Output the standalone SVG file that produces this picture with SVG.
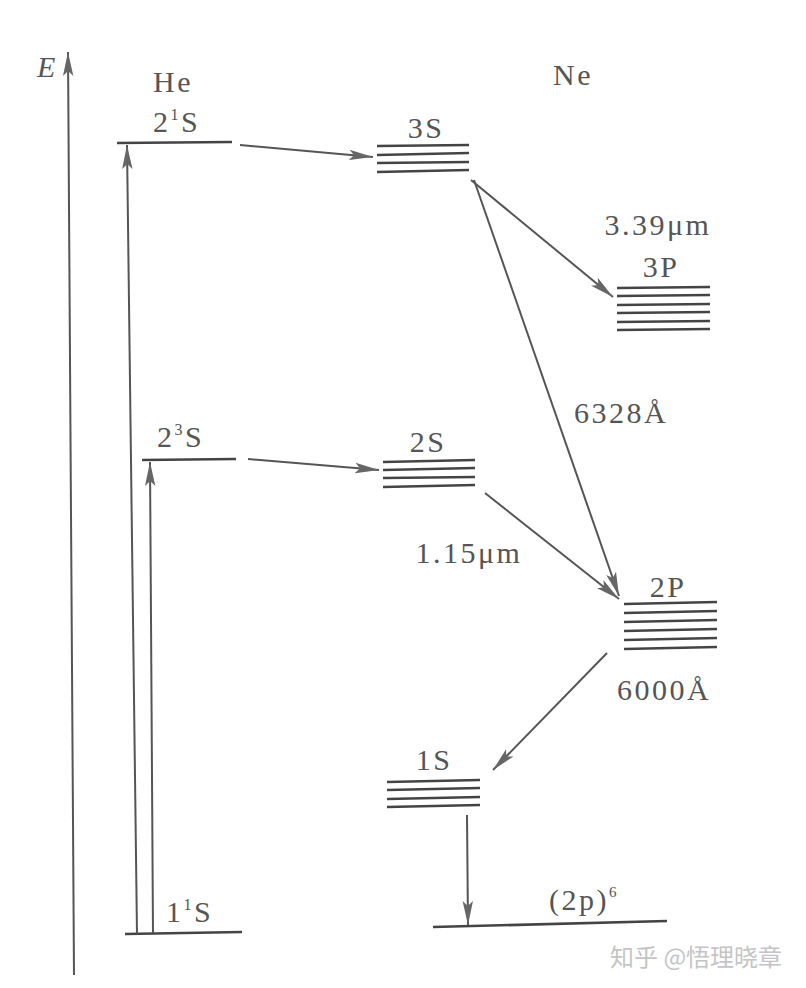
<svg xmlns="http://www.w3.org/2000/svg" width="806" height="988" viewBox="0 0 806 988">
<style>
.t{font-family:"Liberation Serif","Times New Roman",serif;font-size:30px;fill:#555;letter-spacing:2.5px}
.lv{stroke:#444;stroke-width:2.6;fill:none}
.ar{stroke:#555;stroke-width:2;fill:none;marker-end:url(#ah)}
.wm{font-family:"Noto Sans CJK SC","Noto Sans",sans-serif;font-size:24px;fill:#c4c4c4}
</style>
<defs>
<marker id="ah" markerUnits="userSpaceOnUse" markerWidth="26" markerHeight="12" refX="24" refY="6" orient="auto">
<path d="M0,0.8 L24,6 L0,11.2 L5,6 Z" fill="#666"/>
</marker>
</defs>
<rect width="806" height="988" fill="#fff"/>
<g id="axis">
<line class="ar" x1="74" y1="975" x2="68" y2="52"/>
<text class="t" x="37" y="77" font-style="italic">E</text>
</g>
<g id="he">
<text class="t" x="173" y="92" text-anchor="middle">He</text>
</g>
<g id="ne">
<text class="t" x="573" y="85" text-anchor="middle">Ne</text>
</g>
<g id="he-2-1S">
<line class="lv" x1="117" y1="143" x2="232" y2="142"/>
<text class="t" x="153" y="132">2<tspan font-size="16" dy="-12">1</tspan><tspan dy="12">S</tspan></text>
</g>
<g id="he-2-3S">
<line class="lv" x1="142" y1="460" x2="236" y2="459"/>
<text class="t" x="157" y="447">2<tspan font-size="16" dy="-12">3</tspan><tspan dy="12">S</tspan></text>
</g>
<g id="he-1-1S">
<line class="lv" x1="125" y1="934" x2="242" y2="932"/>
<text class="t" x="166" y="922">1<tspan font-size="16" dy="-12">1</tspan><tspan dy="12">S</tspan></text>
</g>
<g id="ne-3S">
<line class="lv" x1="377" y1="146" x2="469" y2="145"/>
<line class="lv" x1="377" y1="155" x2="469" y2="153"/>
<line class="lv" x1="377" y1="163" x2="469" y2="162"/>
<line class="lv" x1="377" y1="172" x2="469" y2="170"/>
<text class="t" x="426" y="138" text-anchor="middle">3S</text>
</g>
<g id="ne-3P">
<line class="lv" x1="617" y1="288" x2="710" y2="287"/>
<line class="lv" x1="617" y1="296" x2="710" y2="295"/>
<line class="lv" x1="617" y1="305" x2="710" y2="304"/>
<line class="lv" x1="617" y1="313" x2="710" y2="312"/>
<line class="lv" x1="617" y1="322" x2="710" y2="321"/>
<line class="lv" x1="617" y1="330" x2="710" y2="329"/>
<text class="t" x="658" y="235" text-anchor="middle">3.39μm</text>
<text class="t" x="661" y="277" text-anchor="middle">3P</text>
</g>
<g id="ne-2S">
<line class="lv" x1="383" y1="462" x2="475" y2="460"/>
<line class="lv" x1="383" y1="470" x2="475" y2="468"/>
<line class="lv" x1="383" y1="478" x2="475" y2="477"/>
<line class="lv" x1="383" y1="487" x2="475" y2="485"/>
<text class="t" x="428" y="452" text-anchor="middle">2S</text>
</g>
<g id="ne-2P">
<line class="lv" x1="624" y1="604" x2="717" y2="602"/>
<line class="lv" x1="624" y1="613" x2="717" y2="611"/>
<line class="lv" x1="624" y1="622" x2="717" y2="620"/>
<line class="lv" x1="624" y1="631" x2="717" y2="629"/>
<line class="lv" x1="624" y1="640" x2="717" y2="638"/>
<line class="lv" x1="624" y1="649" x2="717" y2="647"/>
<text class="t" x="668" y="597" text-anchor="middle">2P</text>
<text class="t" x="664" y="700" text-anchor="middle">6000Å</text>
</g>
<g id="ne-1S">
<line class="lv" x1="387" y1="782" x2="480" y2="780"/>
<line class="lv" x1="387" y1="790" x2="480" y2="788"/>
<line class="lv" x1="387" y1="799" x2="480" y2="797"/>
<line class="lv" x1="387" y1="807" x2="480" y2="805"/>
<text class="t" x="434" y="770" text-anchor="middle">1S</text>
</g>
<g id="ne-ground">
<line class="lv" x1="433" y1="927" x2="667" y2="921"/>
<text class="t" x="549" y="910">(2p)<tspan font-size="15" dy="-13">6</tspan></text>
</g>
<g id="labels">
<text class="t" x="621" y="423" text-anchor="middle">6328Å</text>
<text class="t" x="469" y="563" text-anchor="middle">1.15μm</text>
</g>
<g id="connectors">
<line class="ar" x1="137" y1="934" x2="127" y2="145"/>
<line class="ar" x1="153" y1="933" x2="150" y2="462"/>
<line class="ar" x1="240" y1="145" x2="373" y2="157"/>
<line class="ar" x1="248" y1="459" x2="379" y2="470"/>
<line class="ar" x1="471" y1="180" x2="613" y2="297"/>
<line class="ar" x1="474" y1="180" x2="619" y2="596"/>
<line class="ar" x1="485" y1="493" x2="619" y2="599"/>
<line class="ar" x1="607" y1="653" x2="493" y2="770"/>
<line class="ar" x1="467" y1="815" x2="468" y2="925"/>
</g>
<text class="wm" x="610" y="966">知乎 @悟理晓章</text>
</svg>
